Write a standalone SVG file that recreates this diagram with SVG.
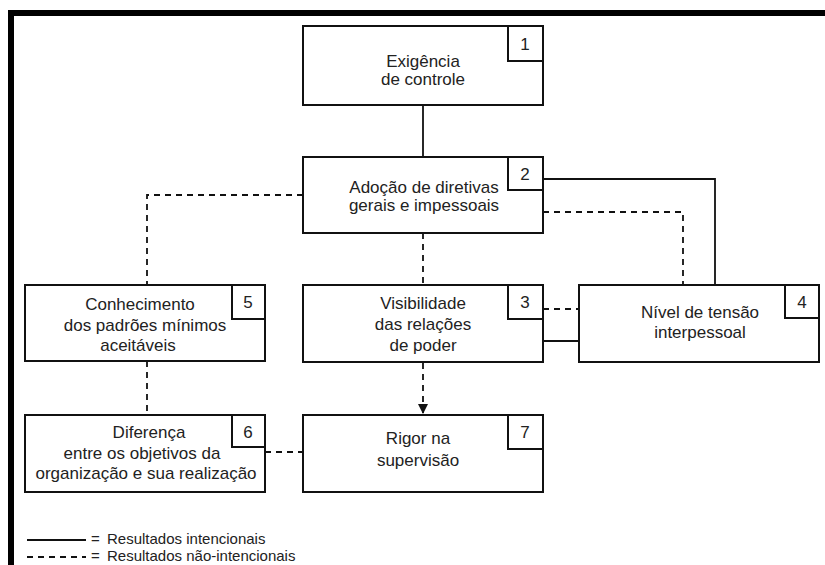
<svg xmlns="http://www.w3.org/2000/svg" width="825" height="565" viewBox="0 0 825 565">
<defs>
<style>
.box{fill:#fff;stroke:#111;stroke-width:2}
.num{fill:none;stroke:#111;stroke-width:2}
.t{font-family:"Liberation Sans","DejaVu Sans",sans-serif;font-size:17px;fill:#222;text-anchor:middle}
.n{font-family:"Liberation Sans","DejaVu Sans",sans-serif;font-size:17px;fill:#222;text-anchor:middle}
.lg{font-family:"Liberation Sans","DejaVu Sans",sans-serif;font-size:15px;fill:#222}
.solid{fill:none;stroke:#111;stroke-width:1.8}
.dash{fill:none;stroke:#111;stroke-width:1.8;stroke-dasharray:6 5}
</style>
<marker id="arr" viewBox="0 0 10 10" refX="10" refY="5" markerWidth="10" markerHeight="10" markerUnits="userSpaceOnUse" orient="auto">
<path d="M0,0 L10,5 L0,10 z" fill="#111"/>
</marker>
</defs>
<rect x="0" y="0" width="825" height="565" fill="#fff"/>
<rect x="8" y="10" width="817" height="6" fill="#000"/>
<rect x="8" y="10" width="6" height="555" fill="#000"/>

<g id="connectors">
<line class="solid" x1="423" y1="105" x2="423" y2="157"/>
<polyline class="solid" points="543,179 715,179 715,285"/>
<polyline class="dash" points="543,212 683,212 683,285"/>
<polyline class="dash" points="303,195 147,195 147,285"/>
<line class="dash" x1="423" y1="233" x2="423" y2="285"/>
<line class="dash" x1="543" y1="309" x2="579" y2="309"/>
<line class="solid" x1="543" y1="341" x2="579" y2="341"/>
<line class="dash" x1="147" y1="361" x2="147" y2="415"/>
<line class="dash" x1="265" y1="452" x2="303" y2="452"/>
<line class="dash" x1="423" y1="363" x2="423" y2="414" marker-end="url(#arr)"/>
</g>

<g id="node1">
<rect class="box" x="303" y="26" width="240" height="79"/>
<polyline class="num" points="508,26 508,61 543,61"/>
<text class="n" x="525" y="50">1</text>
<text class="t" x="423" y="67">Exigência</text>
<text class="t" x="423" y="85">de controle</text>
</g>

<g id="node2">
<rect class="box" x="303" y="157" width="240" height="76"/>
<polyline class="num" points="508,157 508,190 543,190"/>
<text class="n" x="525" y="180">2</text>
<text class="t" x="424" y="193">Adoção de diretivas</text>
<text class="t" x="424" y="211">gerais e impessoais</text>
</g>

<g id="node3">
<rect class="box" x="303" y="285" width="240" height="77"/>
<polyline class="num" points="508,285 508,319 543,319"/>
<text class="n" x="525" y="308">3</text>
<text class="t" x="423" y="309">Visibilidade</text>
<text class="t" x="423" y="330">das relações</text>
<text class="t" x="423" y="351">de poder</text>
</g>

<g id="node4">
<rect class="box" x="579" y="285" width="240" height="77"/>
<polyline class="num" points="785,285 785,318 819,318"/>
<text class="n" x="802" y="308">4</text>
<text class="t" x="700" y="318">Nível de tensão</text>
<text class="t" x="700" y="338">interpessoal</text>
</g>

<g id="node5">
<rect class="box" x="25" y="285" width="240" height="76"/>
<polyline class="num" points="232,285 232,319 265,319"/>
<text class="n" x="248" y="308">5</text>
<text class="t" x="140" y="310">Conhecimento</text>
<text class="t" x="145" y="331">dos padrões mínimos</text>
<text class="t" x="138" y="351">aceitáveis</text>
</g>

<g id="node6">
<rect class="box" x="25" y="415" width="240" height="77"/>
<polyline class="num" points="232,415 232,447 265,447"/>
<text class="n" x="248" y="438">6</text>
<text class="t" x="149" y="438">Diferença</text>
<text class="t" x="142" y="459">entre os objetivos da</text>
<text class="t" x="146" y="479">organização e sua realização</text>
</g>

<g id="node7">
<rect class="box" x="303" y="415" width="240" height="77"/>
<polyline class="num" points="508,415 508,449 543,449"/>
<text class="n" x="525" y="438">7</text>
<text class="t" x="418" y="444">Rigor na</text>
<text class="t" x="418" y="466">supervisão</text>
</g>

<g id="legend">
<line class="solid" x1="27" y1="540" x2="86" y2="540" stroke-width="1.5"/>
<text class="lg" x="91" y="544">=</text>
<text class="lg" x="107" y="544">Resultados intencionais</text>
<line class="dash" x1="27" y1="557" x2="86" y2="557" stroke-width="1.5" stroke-dasharray="8 7"/>
<text class="lg" x="91" y="561">=</text>
<text class="lg" x="107" y="561">Resultados não-intencionais</text>
</g>
</svg>
